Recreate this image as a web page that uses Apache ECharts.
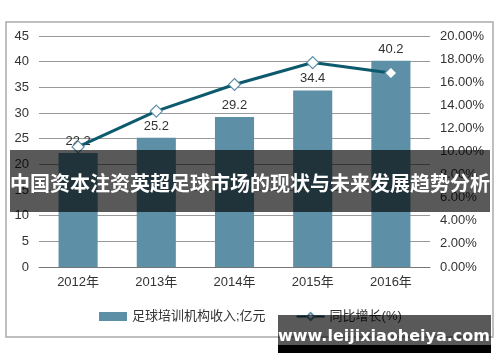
<!DOCTYPE html>
<html>
<head>
<meta charset="utf-8">
<script src="https://cdn.jsdelivr.net/npm/echarts@6/dist/echarts.min.js"></script>
<style>html,body{margin:0;padding:0;background:#fff}#c{width:500px;height:362px}</style>
</head>
<body>
<div id="c"></div>
<script>
var categories = ['2012年', '2013年', '2014年', '2015年', '2016年'];
var revenue = [22.2, 25.2, 29.2, 34.4, 40.2];
var growth = [10.4, 13.5, 15.8, 17.7, 16.8];
var seriesNames = ['足球培训机构收入;亿元', '同比增长(%)'];
var titleText = '中国资本注资英超足球市场的现状与未来发展趋势分析';
var watermark = 'www.leijixiaoheiya.com';

var font = '"Liberation Sans", Arial, "Noto Sans CJK SC", sans-serif';
var chart = echarts.init(document.getElementById('c'), null, {renderer: 'canvas'});
chart.setOption({
  animation: false,
  textStyle: {fontFamily: font},
  grid: {left: 39, right: 70, top: 36, bottom: 95},
  legend: {
    left: 94, top: 305, itemGap: 30, itemWidth: 28, itemHeight: 9,
    textStyle: {fontSize: 13, color: '#333', fontFamily: font},
    data: [{name: seriesNames[0], icon: 'rect'}, {name: seriesNames[1]}]
  },
  xAxis: {
    type: 'category', data: categories,
    axisLine: {lineStyle: {color: '#777'}},
    axisTick: {show: false},
    axisLabel: {fontSize: 13, color: '#333', margin: 9}
  },
  yAxis: [{
    type: 'value', min: 0, max: 45, interval: 5,
    axisLine: {show: false}, axisTick: {show: false},
    axisLabel: {fontSize: 13, color: '#333', margin: 10},
    splitLine: {lineStyle: {color: '#999'}}
  }, {
    type: 'value', min: 0, max: 20, interval: 2,
    axisLine: {show: false}, axisTick: {show: false},
    axisLabel: {fontSize: 13, color: '#333', margin: 10, formatter: function (v) { return v.toFixed(2) + '%'; }},
    splitLine: {show: false}
  }],
  series: [{
    name: seriesNames[0], type: 'bar', data: revenue, barWidth: '50%',
    itemStyle: {color: '#5d8fa6'},
    label: {show: true, position: 'top', fontSize: 13, color: '#333', distance: 5}
  }, {
    name: seriesNames[1], type: 'line', yAxisIndex: 1, data: growth,
    symbol: 'diamond', symbolSize: 12,
    lineStyle: {color: '#0d5a6e', width: 3},
    itemStyle: {color: '#fff', borderColor: '#5d8fa6', borderWidth: 1.2},
    z: 5
  }],
  graphic: [
    {type: 'rect', shape: {x: 6, y: 22, width: 487, height: 315}, style: {fill: 'none', stroke: '#aaa', lineWidth: 1.5}, z: 0, silent: true},
    {type: 'rect', shape: {x: 10, y: 150, width: 480, height: 62}, style: {fill: 'rgba(0,0,0,0.65)'}, z: 100},
    {type: 'text', x: 250, y: 183, style: {text: titleText, fill: '#fff', font: 'bold 20px "Noto Sans CJK SC", sans-serif', align: 'center', verticalAlign: 'middle'}, z: 101},
    {type: 'rect', shape: {x: 278, y: 315, width: 213, height: 30}, style: {fill: 'rgba(0,0,0,0.65)'}, z: 100},
    {type: 'rect', shape: {x: 278, y: 345, width: 213, height: 8}, style: {fill: '#000'}, z: 100},
    {type: 'text', x: 384, y: 337, style: {text: watermark, fill: '#fff', font: 'bold 16px "DejaVu Sans", sans-serif', align: 'center', verticalAlign: 'middle'}, z: 101}
  ]
});
</script>
</body>
</html>
